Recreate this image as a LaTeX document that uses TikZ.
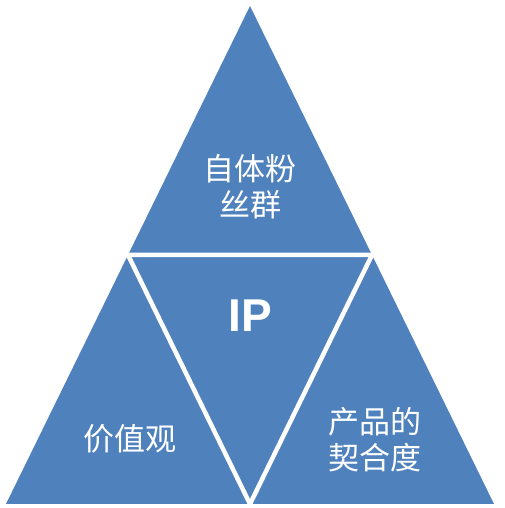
\documentclass[tikz,border=0pt]{standalone}
\usepackage{fontspec}
\newfontfamily\cjk{Noto Sans CJK SC}
\newfontfamily\ipfont{Liberation Sans}
\definecolor{ipblue}{HTML}{4F81BD}
\begin{document}
\begin{tikzpicture}[x=1pt,y=1pt]

    \tikzstyle{block} = [fill=ipblue]
    \tikzstyle{gap} = [white, line width=4.5pt, line cap=round]
    \tikzstyle{label} = [white, align=center, font=\cjk\fontsize{31}{36}\selectfont]

    \useasboundingbox (0,0) rectangle (505,508);

    % outer triangle
    \coordinate (apex) at (250,502);
    \coordinate (left) at (6,4);
    \coordinate (right) at (494,4);
    \coordinate (midleft) at (128,253);
    \coordinate (midright) at (372,253);
    \coordinate (midbottom) at (250,4);

    \fill[block] (apex) -- (left) -- (right) -- cycle;

    % inner inverted triangle
    \draw[gap] (midleft) -- (midright) -- (midbottom) -- cycle;

    \node[label] (fans) at (250,321) {自体粉\\丝群};
    \node[white, font=\ipfont\bfseries\fontsize{46}{46}\selectfont] (ip) at (250,192) {IP};
    \node[label] (values) at (130,69) {价值观};
    \node[label] (product) at (375,68) {产品的\\契合度};
\end{tikzpicture}
\end{document}
